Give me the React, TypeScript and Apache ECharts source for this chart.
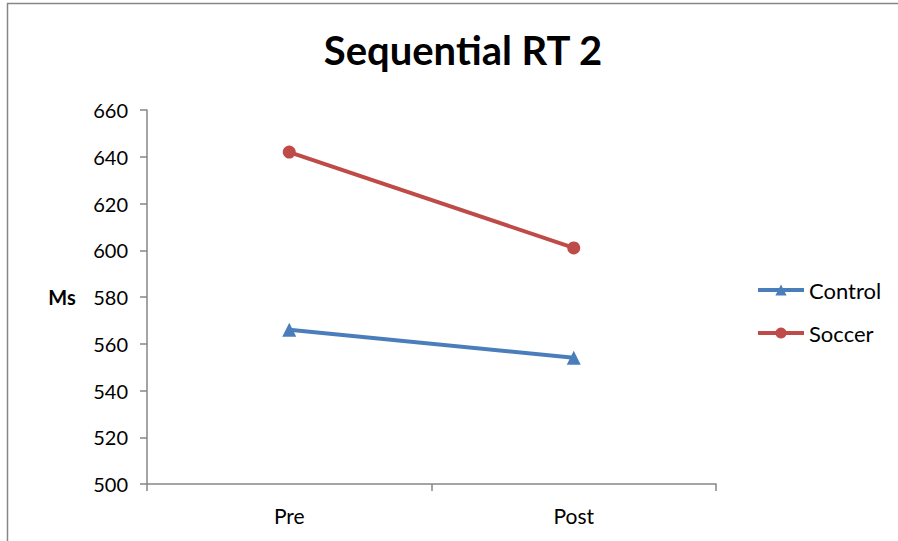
import React, { useEffect, useRef } from "react";
import * as echarts from "echarts";

const categories = ["Pre", "Post"];
const controlValues = [566, 554];
const soccerValues = [642, 601];
const yMin = 500;
const yMax = 660;
const yInterval = 20;

export default function App() {
  const ref = useRef<HTMLDivElement>(null);
  useEffect(() => {
    if (!ref.current) return;
    const chart = echarts.init(ref.current, undefined, { renderer: "svg" });
    const font = "Lato, 'Noto Sans', sans-serif";
    const axisColor = "#868686";
    const blue = "#4a7ebb";
    const red = "#be4b48";
    chart.setOption({
      animation: false,
      backgroundColor: "#ffffff",
      title: {
        text: "Sequential RT 2",
        left: 458,
        textAlign: "center",
        top: 25,
        textStyle: { fontFamily: font, fontWeight: "bold", fontSize: 40, color: "#000" },
      },
      graphic: [
        {
          type: "rect",
          shape: { x: 7.5, y: 3.5, width: 1000, height: 1000 },
          style: { fill: "none", stroke: axisColor, lineWidth: 1.5 },
          silent: true,
        },
        {
          type: "text",
          x: 62,
          y: 297,
          style: {
            text: "Ms",
            fontFamily: font,
            fontWeight: "bold",
            fontSize: 20,
            fill: "#000",
            align: "center",
            verticalAlign: "middle",
          },
        },
      ],
      legend: {
        orient: "vertical",
        left: 756,
        top: 279,
        padding: 0,
        itemWidth: 46,
        itemHeight: 14,
        itemGap: 21,
        textStyle: { fontFamily: font, fontSize: 22, color: "#000", padding: [0, 0, 0, 0] },
        data: [
          { name: "Control", lineStyle: { width: 4, color: blue } },
          { name: "Soccer", lineStyle: { width: 4, color: red } },
        ],
      },
      grid: { left: 147, right: 182, top: 110, bottom: 57, containLabel: false },
      xAxis: {
        type: "category",
        data: categories,
        boundaryGap: true,
        axisLine: { lineStyle: { color: axisColor, width: 1.5 } },
        axisTick: { show: true, length: 7, lineStyle: { color: axisColor, width: 1.5 } },
        axisLabel: { fontFamily: font, fontSize: 21, color: "#000", margin: 21 },
        splitLine: { show: false },
      },
      yAxis: {
        type: "value",
        min: yMin,
        max: yMax,
        interval: yInterval,
        axisLine: { show: true, lineStyle: { color: axisColor, width: 1.5 } },
        axisTick: { show: true, length: 7, lineStyle: { color: axisColor, width: 1.5 } },
        axisLabel: { fontFamily: font, fontSize: 20, color: "#000", margin: 19 },
        splitLine: { show: false },
      },
      series: [
        {
          name: "Control",
          type: "line",
          data: controlValues,
          symbol: "triangle",
          symbolSize: 14,
          lineStyle: { color: blue, width: 4 },
          itemStyle: { color: blue },
        },
        {
          name: "Soccer",
          type: "line",
          data: soccerValues,
          symbol: "circle",
          symbolSize: 13,
          lineStyle: { color: red, width: 4 },
          itemStyle: { color: red },
        },
      ],
    });
    return () => chart.dispose();
  }, []);
  return (
    <div
      ref={ref}
      style={{ position: "fixed", left: 0, top: 0, width: 898, height: 541 }}
    />
  );
}
